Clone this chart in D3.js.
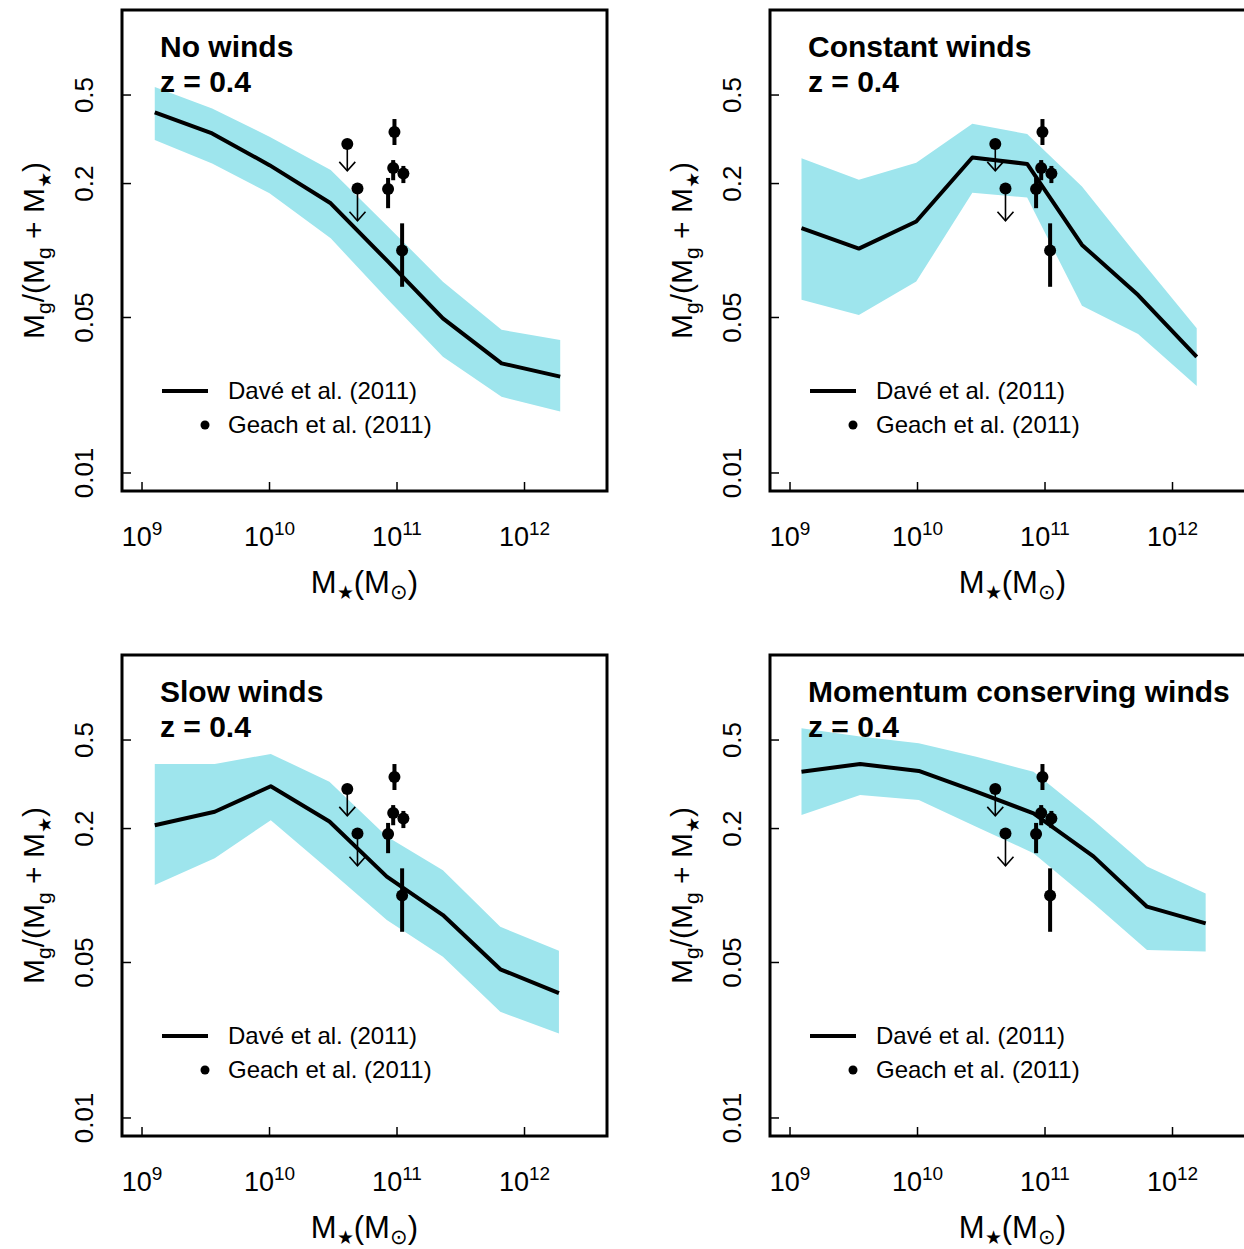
<!DOCTYPE html>
<html>
<head>
<meta charset="utf-8">
<script src="https://cdn.jsdelivr.net/npm/d3@7"></script>
<style>
body{margin:0;background:#fff;}
svg text{font-family:"Liberation Sans",Arial,Helvetica,sans-serif;fill:#000;}
</style>
</head>
<body>
<div id="chart"></div>
<script>
// panel titles
var panelTitles = ["No winds", "Constant winds", "Slow winds", "Momentum conserving winds"];
var redshiftLabel = "z = 0.4";
var legendLabels = ["Davé et al. (2011)", "Geach et al. (2011)"];

// Dave et al. (2011) simulations : log10 M* of each bin, median and band (gas fraction)
var massNoWinds = [9.10, 9.55, 10.00, 10.48, 10.93, 11.36, 11.82, 12.28];
var medNoWinds  = [0.418, 0.336, 0.242, 0.163, 0.0891, 0.0495, 0.0311, 0.0271];
var hiNoWinds   = [0.544, 0.435, 0.325, 0.230, 0.128, 0.0724, 0.0440, 0.0396];
var loNoWinds   = [0.314, 0.246, 0.181, 0.1135, 0.060, 0.0333, 0.0220, 0.0189];

var massConstant = [9.09, 9.54, 9.99, 10.43, 10.86, 11.29, 11.73, 12.19];
var medConstant  = [0.126, 0.102, 0.135, 0.262, 0.245, 0.106, 0.0631, 0.0333];
var hiConstant   = [0.260, 0.208, 0.248, 0.371, 0.334, 0.194, 0.0938, 0.0447];
var loConstant   = [0.060, 0.0513, 0.0725, 0.182, 0.173, 0.0564, 0.0422, 0.0246];

var massSlow = [9.10, 9.57, 10.01, 10.47, 10.92, 11.36, 11.81, 12.27];
var medSlow  = [0.207, 0.238, 0.310, 0.215, 0.1216, 0.0817, 0.0466, 0.0364];
var hiSlow   = [0.390, 0.390, 0.433, 0.325, 0.184, 0.130, 0.0724, 0.0565];
var loSlow   = [0.1114, 0.147, 0.218, 0.130, 0.0776, 0.0531, 0.0300, 0.0240];

var massMomentum = [9.09, 9.55, 10.01, 10.46, 10.91, 11.38, 11.80, 12.26];
var medMomentum  = [0.360, 0.390, 0.363, 0.293, 0.234, 0.150, 0.0891, 0.0750];
var hiMomentum   = [0.565, 0.518, 0.483, 0.421, 0.360, 0.218, 0.135, 0.102];
var loMomentum   = [0.230, 0.283, 0.269, 0.204, 0.155, 0.0923, 0.0569, 0.0560];

// Geach et al. (2011) detections
var geachMass  = [10.98, 10.97, 11.05, 10.93, 11.04];
var geachFrac  = [0.341, 0.235, 0.222, 0.189, 0.100];
var geachErrHi = [0.390, 0.255, 0.240, 0.212, 0.1325];
var geachErrLo = [0.298, 0.207, 0.201, 0.155, 0.0687];
// Geach et al. (2011) upper limits
var limitMass = [10.61, 10.69];
var limitFrac = [0.301, 0.190];
var limitTo   = [0.228, 0.136];

// axes
var xTickExp = [9, 10, 11, 12];
var yTicks = [0.01, 0.05, 0.2, 0.5];
var yTickLabels = ["0.01", "0.05", "0.2", "0.5"];

var W = 1244, H = 1249;
var bandColor = "#9ee5ed";
var box = {left: 122, right: 607, top: 10, bottom: 491};
var offsets = [[0, 0], [648, 0], [0, 645], [648, 645]];

var panels = [
    {mass: massNoWinds, med: medNoWinds, hi: hiNoWinds, lo: loNoWinds},
    {mass: massConstant, med: medConstant, hi: hiConstant, lo: loConstant},
    {mass: massSlow, med: medSlow, hi: hiSlow, lo: loSlow},
    {mass: massMomentum, med: medMomentum, hi: hiMomentum, lo: loMomentum}
];

var svg = d3.select("#chart").append("svg")
    .attr("width", W).attr("height", H)
    .attr("viewBox", "0 0 " + W + " " + H);

var x = d3.scaleLog().domain([Math.pow(10, 8.843), Math.pow(10, 12.647)]).range([box.left, box.right]);
var y = d3.scaleLog().domain([Math.pow(10, -2.081), Math.pow(10, 0.0812)]).range([box.bottom, box.top]);

panels.forEach(function (p, i) {
    var g = svg.append("g").attr("transform", "translate(" + offsets[i][0] + "," + offsets[i][1] + ")");
    var rows = p.mass.map(function (m, k) {
        return {m: Math.pow(10, m), med: p.med[k], hi: p.hi[k], lo: p.lo[k]};
    });

    // band
    g.append("path").datum(rows)
        .attr("fill", bandColor)
        .attr("d", d3.area().x(d => x(d.m)).y0(d => y(d.lo)).y1(d => y(d.hi)));

    // median line
    g.append("path").datum(rows)
        .attr("fill", "none").attr("stroke", "#000").attr("stroke-width", 4)
        .attr("stroke-linejoin", "round")
        .attr("d", d3.line().x(d => x(d.m)).y(d => y(d.med)));

    // upper limits
    limitMass.forEach(function (m, k) {
        var cx = x(Math.pow(10, m)), cy = y(limitFrac[k]), ty = y(limitTo[k]);
        g.append("line").attr("x1", cx).attr("x2", cx).attr("y1", cy).attr("y2", ty)
            .attr("stroke", "#000").attr("stroke-width", 1.6);
        g.append("path")
            .attr("d", "M" + (cx - 8) + "," + (ty - 9) + "L" + cx + "," + ty + "L" + (cx + 8) + "," + (ty - 9))
            .attr("fill", "none").attr("stroke", "#000").attr("stroke-width", 1.6);
        g.append("circle").attr("cx", cx).attr("cy", cy).attr("r", 6).attr("fill", "#000");
    });

    // detections with error bars
    geachMass.forEach(function (m, k) {
        var cx = x(Math.pow(10, m));
        g.append("line").attr("x1", cx).attr("x2", cx)
            .attr("y1", y(geachErrHi[k])).attr("y2", y(geachErrLo[k]))
            .attr("stroke", "#000").attr("stroke-width", 4);
        g.append("circle").attr("cx", cx).attr("cy", y(geachFrac[k])).attr("r", 6).attr("fill", "#000");
    });

    // box
    g.append("rect")
        .attr("x", box.left).attr("y", box.top)
        .attr("width", box.right - box.left).attr("height", box.bottom - box.top)
        .attr("fill", "none").attr("stroke", "#000").attr("stroke-width", 3);

    // x ticks (inward) and labels
    xTickExp.forEach(function (e) {
        var tx = x(Math.pow(10, e));
        g.append("line").attr("x1", tx).attr("x2", tx).attr("y1", box.bottom).attr("y2", box.bottom - 9)
            .attr("stroke", "#000").attr("stroke-width", 1.5);
        var t = g.append("text").attr("x", tx).attr("y", 546)
            .attr("text-anchor", "middle").style("font-size", "27px");
        t.append("tspan").text("10");
        t.append("tspan").attr("dy", -11).style("font-size", "19px").text(e);
    });

    // y ticks (inward) and rotated labels
    yTicks.forEach(function (v, k) {
        var ty = y(v);
        g.append("line").attr("x1", box.left).attr("x2", box.left + 9).attr("y1", ty).attr("y2", ty)
            .attr("stroke", "#000").attr("stroke-width", 1.5);
        g.append("text").attr("transform", "translate(93," + ty + ") rotate(-90)")
            .attr("text-anchor", "middle").style("font-size", "26px")
            .text(yTickLabels[k]);
    });

    // axis titles
    var xt = g.append("text").attr("x", (box.left + box.right) / 2).attr("y", 593)
        .attr("text-anchor", "middle").style("font-size", "31px");
    xt.append("tspan").text("M");
    xt.append("tspan").attr("dy", 6).style("font-size", "19px").text("★");
    xt.append("tspan").attr("dy", -6).text("(M");
    xt.append("tspan").attr("dy", 6).style("font-size", "21px").text("⊙");
    xt.append("tspan").attr("dy", -6).text(")");

    var yt = g.append("text").attr("transform", "translate(44," + (box.top + box.bottom) / 2 + ") rotate(-90)")
        .attr("text-anchor", "middle").style("font-size", "30px");
    yt.append("tspan").text("M");
    yt.append("tspan").attr("dy", 7).style("font-size", "21px").text("g");
    yt.append("tspan").attr("dy", -7).text("/(M");
    yt.append("tspan").attr("dy", 7).style("font-size", "21px").text("g");
    yt.append("tspan").attr("dy", -7).text(" + M");
    yt.append("tspan").attr("dy", 7).style("font-size", "18px").text("★");
    yt.append("tspan").attr("dy", -7).text(")");

    // legend
    g.append("line").attr("x1", 162).attr("x2", 208).attr("y1", 391).attr("y2", 391)
        .attr("stroke", "#000").attr("stroke-width", 4);
    g.append("circle").attr("cx", 205).attr("cy", 425).attr("r", 4.5).attr("fill", "#000");
    g.append("text").attr("x", 228).attr("y", 399).style("font-size", "24px").text(legendLabels[0]);
    g.append("text").attr("x", 228).attr("y", 433).style("font-size", "24px").text(legendLabels[1]);

    // panel title
    g.append("text").attr("x", 160).attr("y", 57).style("font-size", "30px").style("font-weight", "bold")
        .text(panelTitles[i]);
    g.append("text").attr("x", 160).attr("y", 92).style("font-size", "30px").style("font-weight", "bold")
        .text(redshiftLabel);
});
</script>
</body>
</html>
